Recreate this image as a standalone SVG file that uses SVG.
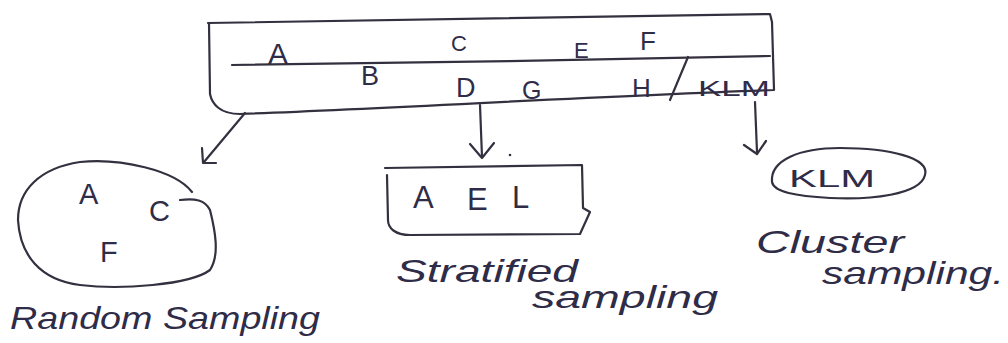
<svg xmlns="http://www.w3.org/2000/svg" width="1008" height="343" viewBox="0 0 1008 343">
<defs>
<style>
.ln{fill:none;stroke:#34303f;stroke-width:2.2;stroke-linecap:round;stroke-linejoin:round}
.t{font-family:"Liberation Sans",Arial,sans-serif;fill:#2f2c48}
.cap{font-size:32px;font-style:italic}
</style>
</defs>
<rect width="1008" height="343" fill="#ffffff"/>
<g id="population">
<path class="ln" d="M208,23 C300,22 500,17 770,14 L772,22 L774,90 C600,96 400,108 240,114 C220,114 212,104 210,94 L209,23"/>
<path class="ln" d="M232,65 C400,63 600,60 770,56"/>
<path class="ln" d="M688,57 L670,100"/>
<text class="t" font-size="30" x="268" y="64">A</text>
<text class="t" font-size="27" x="361" y="85">B</text>
<text class="t" font-size="22" x="451" y="51">C</text>
<text class="t" font-size="27" x="456" y="97">D</text>
<text class="t" font-size="22" x="574" y="58">E</text>
<text class="t" font-size="26" x="640" y="50">F</text>
<text class="t" font-size="25" x="522" y="99">G</text>
<text class="t" font-size="26" x="632" y="97">H</text>
<text class="t" font-size="22" x="698" y="96" textLength="72" lengthAdjust="spacingAndGlyphs">KLM</text>
</g>
<g id="connectors">
<path class="ln" d="M245,113 L204,162"/>
<path class="ln" d="M202,148 L203,163 L216,163"/>
<path class="ln" d="M480,105 L482,157"/>
<path class="ln" d="M470,144 L482,158 L494,143"/>
<path class="ln" d="M755,102 L757,152"/>
<path class="ln" d="M744,145 L757,154 L766,141"/>
<circle cx="510" cy="155" r="1.3" fill="#34303f"/>
</g>
<g id="random">
<path class="ln" d="M192,192 C175,170 120,158 80,162 C40,168 18,190 18,220 C20,255 40,280 80,285 C120,290 190,285 210,270 C220,255 215,230 210,210 C205,200 195,198 180,200"/>
<text class="t" font-size="29" x="79" y="204">A</text>
<text class="t" font-size="29" x="149" y="221">C</text>
<text class="t" font-size="29" x="100" y="262">F</text>
<text class="t cap" x="10" y="329" textLength="310" lengthAdjust="spacingAndGlyphs">Random Sampling</text>
</g>
<g id="stratified">
<path class="ln" d="M385,168 L582,165 L583,208 L590,212 L580,234 L410,235 C395,235 388,228 388,220 L387,175"/>
<text class="t" font-size="31" x="413" y="208">A</text>
<text class="t" font-size="31" x="467" y="210">E</text>
<text class="t" font-size="31" x="512" y="208">L</text>
<text class="t cap" x="396" y="282" textLength="182" lengthAdjust="spacingAndGlyphs">Stratified</text>
<text class="t cap" x="532" y="308" textLength="186" lengthAdjust="spacingAndGlyphs">sampling</text>
</g>
<g id="cluster">
<path class="ln" d="M772,182 C770,160 800,148 840,148 C890,148 930,158 925,175 C920,195 870,200 830,198 C795,196 774,192 772,182 Z"/>
<text class="t" font-size="24" x="789" y="187" textLength="86" lengthAdjust="spacingAndGlyphs">KLM</text>
<text class="t cap" x="756" y="253" textLength="148" lengthAdjust="spacingAndGlyphs">Cluster</text>
<text class="t cap" x="822" y="284" textLength="182" lengthAdjust="spacingAndGlyphs">sampling.</text>
</g>
</svg>
